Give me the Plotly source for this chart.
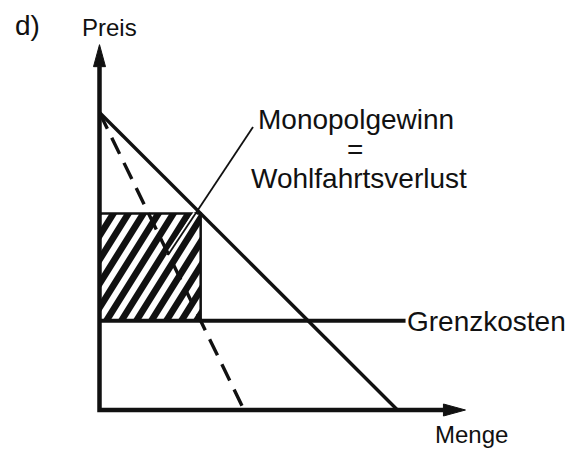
import math
import plotly.graph_objects as go

# Price-quantity diagram of a monopoly
demand_q = [0.0, 10.0]
demand_p = [10.0, 0.0]
mr_q = [0.0, 4.85]          # marginal revenue (dashed)
mr_p = [10.0, 0.0]
mc_q = [0.0, 10.27]         # marginal cost ("Grenzkosten")
mc_p = [3.0, 3.0]
axis_end = 12.28            # both axes end at this value (arrow tips)

label_title = "d)"
label_y = "Preis"
label_x = "Menge"
label_mc = "Grenzkosten"
label_area = ["Monopolgewinn", "=", "Wohlfahrtsverlust"]

# monopoly optimum: MR = MC, price
mc = mc_p[0]
q_m = mr_q[1] * (mr_p[0] - mc) / mr_p[0]
p_m = demand_p[0] - (demand_p[0] - demand_p[1]) / demand_q[1] * q_m

# canvas geometry
W, H = 574, 450
ox, oy = 99.5, 410.0        # origin in pixels
sx, sy = 29.8, 29.75        # pixels per data unit
x_range = [-ox / sx, (W - ox) / sx]
y_range = [-(H - oy) / sy, oy / sy]


def dq(px):
    return (px - ox) / sx


def dp(py):
    return (oy - py) / sy


INK = "#111111"
FONT = "Liberation Sans, Arial, sans-serif"

fig = go.Figure()

# ---- hatched rectangle (diagonal stripes clipped to the area) ----
def clip(poly, f):
    out = []
    n = len(poly)
    for i in range(n):
        a, b = poly[i], poly[(i + 1) % n]
        fa, fb = f(*a), f(*b)
        if fa >= 0:
            out.append(a)
        if (fa >= 0) != (fb >= 0):
            t = fa / (fa - fb)
            out.append((a[0] + t * (b[0] - a[0]), a[1] + t * (b[1] - a[1])))
    return out


angle = math.radians(58)
k = sy / (sx * math.tan(angle))
period = 15.0 / sx
stripe = 7.8 / sx
phase = 3.0 / sx
rect = [(0, mc), (q_m, mc), (q_m, p_m), (0, p_m)]
u_min, u_max = -k * (p_m - mc), q_m
shapes = []
i = math.floor((u_min - phase) / period) - 1
while phase + i * period < u_max:
    c = phase + i * period
    poly = clip(rect, lambda q, p, c=c: (q - k * (p - mc)) - c)
    poly = clip(poly, lambda q, p, c=c: (c + stripe) - (q - k * (p - mc)))
    if len(poly) >= 3:
        path = "M " + " L ".join(f"{q:.4f},{p:.4f}" for q, p in poly) + " Z"
        shapes.append(dict(type="path", xref="x", yref="y", path=path,
                           fillcolor=INK, line=dict(width=0), layer="below"))
    i += 1

# rectangle border (top and right edge)
fig.add_trace(go.Scatter(x=[0, q_m, q_m], y=[p_m, p_m, mc], mode="lines",
                         line=dict(color=INK, width=2.5), hoverinfo="skip"))

# pointer from the label into the area
ptr_a = (dq(253), dp(127))
ptr_b = (dq(168), dp(255))
t_top = (p_m - ptr_a[1]) / (ptr_b[1] - ptr_a[1])
ptr_top = (ptr_a[0] + t_top * (ptr_b[0] - ptr_a[0]), p_m)
fig.add_trace(go.Scatter(x=[ptr_top[0], ptr_b[0]], y=[ptr_top[1], ptr_b[1]],
                         mode="lines", line=dict(color="white", width=5),
                         hoverinfo="skip"))
fig.add_trace(go.Scatter(x=[ptr_a[0], ptr_b[0]], y=[ptr_a[1], ptr_b[1]],
                         mode="lines", line=dict(color=INK, width=1.8),
                         hoverinfo="skip"))

# demand, marginal revenue, marginal cost
fig.add_trace(go.Scatter(x=demand_q, y=demand_p, mode="lines",
                         line=dict(color=INK, width=3.4), hoverinfo="skip"))
fig.add_trace(go.Scatter(x=mr_q, y=mr_p, mode="lines",
                         line=dict(color=INK, width=3.4, dash="18px,10px"),
                         hoverinfo="skip"))
fig.add_trace(go.Scatter(x=mc_q, y=mc_p, mode="lines",
                         line=dict(color=INK, width=4), hoverinfo="skip"))

# ---- axes with arrow heads ----
head_len, head_half = 22.0, 6.0
y_base = axis_end - head_len / sy
x_base = axis_end - head_len / sx
shapes.append(dict(type="path", xref="x", yref="y",
                   path=f"M 0,{y_base:.4f} L 0,0 L {x_base:.4f},0",
                   line=dict(color=INK, width=4.5)))
shapes.append(dict(type="path", xref="x", yref="y",
                   path=(f"M 0,{axis_end:.4f} L {head_half / sx:.4f},{y_base:.4f} "
                         f"L {-head_half / sx:.4f},{y_base:.4f} Z"),
                   fillcolor=INK, line=dict(color=INK, width=1)))
shapes.append(dict(type="path", xref="x", yref="y",
                   path=(f"M {axis_end:.4f},0 L {x_base:.4f},{head_half / sy:.4f} "
                         f"L {x_base:.4f},{-head_half / sy:.4f} Z"),
                   fillcolor=INK, line=dict(color=INK, width=1)))


def note(text, px, py, size, xanchor="center"):
    return dict(text=text, xref="paper", yref="paper", x=px / W, y=1 - py / H,
                xanchor=xanchor, yanchor="middle", showarrow=False,
                font=dict(family=FONT, size=size, color=INK))


annotations = [
    note(label_title, 13, 25, 28, "left"),
    note(label_y, 109.5, 28, 24),
    note(label_area[0], 356.5, 120, 28),
    note(label_area[1], 355, 149, 28),
    note(label_area[2], 358.5, 178, 28),
    note(label_mc, 405, 321, 28, "left"),
    note(label_x, 471.5, 434, 24),
]

fig.update_layout(
    width=W, height=H,
    margin=dict(l=0, r=0, t=0, b=0),
    paper_bgcolor="white", plot_bgcolor="white",
    showlegend=False,
    xaxis=dict(range=x_range, visible=False, fixedrange=True),
    yaxis=dict(range=y_range, visible=False, fixedrange=True),
    shapes=shapes,
    annotations=annotations,
)

fig.write_html("out.html")
